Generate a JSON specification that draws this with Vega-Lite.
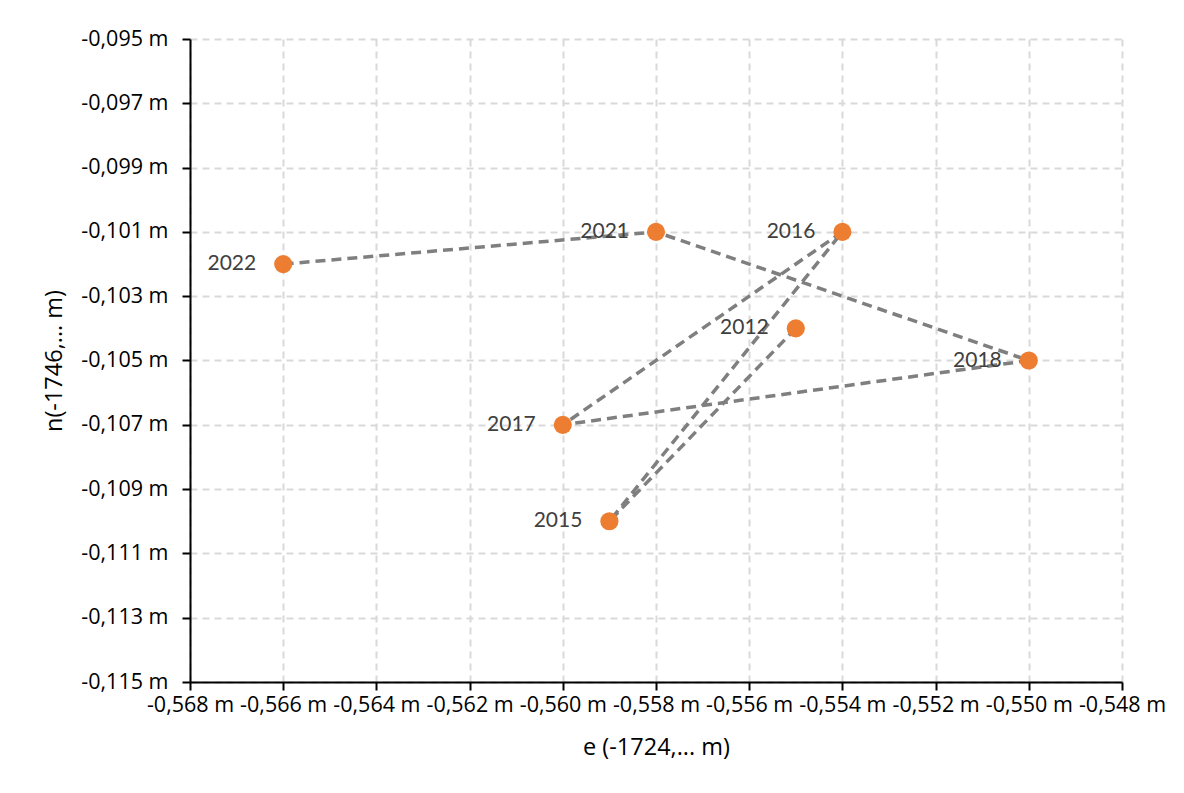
{
  "$schema": "https://vega.github.io/schema/vega-lite/v6.json",
  "width": 932,
  "height": 643,
  "autosize": {"type": "none"},
  "padding": {"left": 190, "top": 39, "right": 62, "bottom": 111},
  "background": "white",
  "config": {
    "view": {"stroke": null},
    "axis": {
      "labelFont": "Open Sans",
      "labelFontSize": 21.5,
      "labelColor": "#000000",
      "titleFont": "Open Sans",
      "titleFontSize": 23.5,
      "titleFontWeight": "normal",
      "titleColor": "#000000",
      "domainColor": "#000000",
      "domainWidth": 2,
      "tickColor": "#000000",
      "tickWidth": 2,
      "tickSize": 8,
      "gridColor": "#d9d9d9",
      "gridWidth": 2,
      "gridDash": [7, 5]
    }
  },
  "data": {
    "values": [
      {"year": "2012", "seq": 1, "e": -0.555, "n": -0.104},
      {"year": "2015", "seq": 2, "e": -0.559, "n": -0.110},
      {"year": "2016", "seq": 3, "e": -0.554, "n": -0.101},
      {"year": "2017", "seq": 4, "e": -0.560, "n": -0.107},
      {"year": "2018", "seq": 5, "e": -0.550, "n": -0.105},
      {"year": "2021", "seq": 6, "e": -0.558, "n": -0.101},
      {"year": "2022", "seq": 7, "e": -0.566, "n": -0.102}
    ]
  },
  "encoding": {
    "x": {
      "field": "e",
      "type": "quantitative",
      "scale": {"domain": [-0.568, -0.548], "nice": false, "zero": false},
      "axis": {
        "title": "e (-1724,... m)",
        "values": [-0.568, -0.566, -0.564, -0.562, -0.560, -0.558, -0.556, -0.554, -0.552, -0.550, -0.548],
        "labelExpr": "'-' + replace(format(abs(datum.value), '.3f'), '.', ',') + ' m'",
        "labelPadding": 4,
        "titlePadding": 20,
        "labelOverlap": false,
        "labelFlush": false
      }
    },
    "y": {
      "field": "n",
      "type": "quantitative",
      "scale": {"domain": [-0.115, -0.095], "nice": false, "zero": false},
      "axis": {
        "title": "n(-1746,... m)",
        "values": [-0.115, -0.113, -0.111, -0.109, -0.107, -0.105, -0.103, -0.101, -0.099, -0.097, -0.095],
        "labelExpr": "'-' + replace(format(abs(datum.value), '.3f'), '.', ',') + ' m'",
        "labelPadding": 14,
        "titlePadding": 14,
        "labelOverlap": false,
        "labelFlush": false
      }
    }
  },
  "layer": [
    {
      "mark": {"type": "line", "color": "#7f7f7f", "strokeWidth": 3.5, "strokeDash": [10, 6]},
      "encoding": {"order": {"field": "seq", "type": "quantitative"}}
    },
    {
      "mark": {"type": "circle", "color": "#ED7D31", "opacity": 1, "size": 330}
    },
    {
      "mark": {"type": "text", "align": "right", "baseline": "middle", "dx": -27, "font": "Lato", "fontSize": 21, "color": "#404040"},
      "encoding": {"text": {"field": "year"}}
    }
  ]
}
